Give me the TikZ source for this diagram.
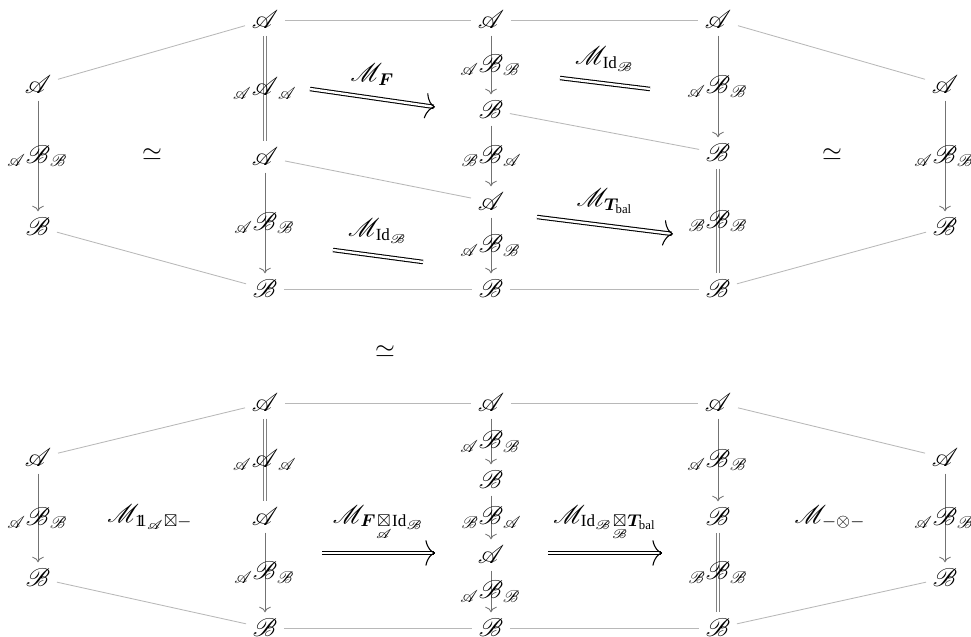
\documentclass[tikz,border=0pt,12pt]{standalone}
\usepackage{amsmath,amssymb,mathtools,bm}
\usepackage{mathrsfs}
\usepackage{fontspec}
\setmainfont{Liberation Serif}
\usetikzlibrary{arrows.meta,calc}

% shorthands for the categories and bimodules
\newcommand{\cA}{\mathscr{A}}
\newcommand{\cB}{\mathscr{B}}
\newcommand{\bimod}[3]{\mathllap{{}_{#1}}#2\mathrlap{{}_{#3}}}
\newcommand{\IdB}{\text{Id}_{\cB}}
% double-struck one, built from two overlapping ones
\newcommand{\bbone}{\mathrm{1}\mkern-5.5mu\mathrm{1}}

\tikzset{
  obj/.style={inner sep=3pt},
  lnk/.style={draw=black!28, line width=0.4pt},
  varr/.style={draw=black!55, line width=0.4pt, -{Computer Modern Rightarrow[length=2.6pt,width=5.5pt]}},
  ideq/.style={draw=black!50, line width=0.4pt, double, double distance=1.4pt},
  celleq/.style={line width=0.5pt, double, double distance=1.1pt},
  celltip/.style={line width=0.5pt, -{Computer Modern Rightarrow[length=4.5pt,width=12pt]}},
  lbl/.style={midway, inner sep=0pt},
  cname/.style={midway, above=1.5pt},
}
% a double arrow between two coordinates, with a large curved head
\newcommand{\twocell}[3]{%
  \draw[celleq, shorten >=0.6pt] (#1) -- node[cname] {#3} (#2);
  \draw[celltip] ($(#2)!0.3pt!(#1)$) -- (#2);}

\begin{document}
\begin{tikzpicture}[x=0.47pt, y=-0.47pt]
\useasboundingbox (0,0) rectangle (971,637);
\clip (0,0) rectangle (971,637);

% ---------------- upper composite ----------------
\node[obj] (T1a) at (38,85)  {$\cA$};
\node[obj] (T1b) at (38,227) {$\cB$};
\node[obj] (T2a) at (265,20) {$\cA$};
\node[obj] (T2b) at (265,157) {$\cA$};
\node[obj] (T2c) at (265,289) {$\cB$};
\node[obj] (T3a) at (491,20) {$\cA$};
\node[obj] (T3b) at (491,110) {$\cB$};
\node[obj] (T3c) at (491,202) {$\cA$};
\node[obj] (T3d) at (491,289) {$\cB$};
\node[obj] (T4a) at (718,20) {$\cA$};
\node[obj] (T4b) at (718,153) {$\cB$};
\node[obj] (T4c) at (718,289) {$\cB$};
\node[obj] (T5a) at (945,85) {$\cA$};
\node[obj] (T5b) at (945,227) {$\cB$};

\draw[lnk] (T1a) -- (T2a);
\draw[lnk] (T2a) -- (T3a);
\draw[lnk] (T3a) -- (T4a);
\draw[lnk] (T4a) -- (T5a);
\draw[lnk] (T1b) -- (T2c);
\draw[lnk] (T2c) -- (T3d);
\draw[lnk] (T3d) -- (T4c);
\draw[lnk] (T4c) -- (T5b);
\draw[lnk] (T2b) -- (T3c);
\draw[lnk] (T3b) -- (T4b);

\draw[varr] (T1a) -- node[lbl] {$\bimod{\cA}{\cB}{\cB}$} (T1b);
\draw[ideq] (T2a) -- node[lbl] {$\bimod{\cA}{\cA}{\cA}$} (T2b);
\draw[varr] (T2b) -- node[lbl] {$\bimod{\cA}{\cB}{\cB}$} (T2c);
\draw[varr] (T3a) -- node[lbl] {$\bimod{\cA}{\cB}{\cB}$} (T3b);
\draw[varr] (T3b) -- node[lbl] {$\bimod{\cB}{\cB}{\cA}$} (T3c);
\draw[varr] (T3c) -- node[lbl] {$\bimod{\cA}{\cB}{\cB}$} (T3d);
\draw[varr] (T4a) -- node[lbl] {$\bimod{\cA}{\cB}{\cB}$} (T4b);
\draw[ideq] (T4b) -- node[lbl] {$\bimod{\cB}{\cB}{\cB}$} (T4c);
\draw[varr] (T5a) -- node[lbl] {$\bimod{\cA}{\cB}{\cB}$} (T5b);

\node (eqL) at (152,155) {$\simeq$};
\node (eqR) at (832,155) {$\simeq$};

% 2-cells of the upper composite
\coordinate (F1) at (310,89);  \coordinate (F2) at (435,107);
\coordinate (I1) at (560,78);  \coordinate (I2) at (650,89);
\coordinate (J1) at (333,250); \coordinate (J2) at (423,262);
\coordinate (B1) at (537,217); \coordinate (B2) at (673,234);
\twocell{F1}{F2}{$\mathscr{M}_{\bm F}$}
\draw[celleq] (I1) -- node[cname] {$\mathscr{M}_{\IdB}$} (I2);
\draw[celleq] (J1) -- node[cname] {$\mathscr{M}_{\IdB}$} (J2);
\twocell{B1}{B2}{$\mathscr{M}_{\bm T_{\text{bal}}}$}

\node (eqM) at (385,352) {$\simeq$};

% ---------------- lower composite ----------------
\node[obj] (U1a) at (38,458)  {$\cA$};
\node[obj] (U1b) at (38,578)  {$\cB$};
\node[obj] (U2a) at (265,403) {$\cA$};
\node[obj] (U2b) at (265,517) {$\cA$};
\node[obj] (U2c) at (265,628) {$\cB$};
\node[obj] (U3a) at (491,403) {$\cA$};
\node[obj] (U3b) at (491,480) {$\cB$};
\node[obj] (U3c) at (491,555) {$\cA$};
\node[obj] (U3d) at (491,628) {$\cB$};
\node[obj] (U4a) at (718,403) {$\cA$};
\node[obj] (U4b) at (718,517) {$\cB$};
\node[obj] (U4c) at (718,628) {$\cB$};
\node[obj] (U5a) at (945,458) {$\cA$};
\node[obj] (U5b) at (945,578) {$\cB$};

\draw[lnk] (U1a) -- (U2a);
\draw[lnk] (U2a) -- (U3a);
\draw[lnk] (U3a) -- (U4a);
\draw[lnk] (U4a) -- (U5a);
\draw[lnk] (U1b) -- (U2c);
\draw[lnk] (U2c) -- (U3d);
\draw[lnk] (U3d) -- (U4c);
\draw[lnk] (U4c) -- (U5b);

\draw[varr] (U1a) -- node[lbl] {$\bimod{\cA}{\cB}{\cB}$} (U1b);
\draw[ideq] (U2a) -- node[lbl] {$\bimod{\cA}{\cA}{\cA}$} (U2b);
\draw[varr] (U2b) -- node[lbl] {$\bimod{\cA}{\cB}{\cB}$} (U2c);
\draw[varr] (U3a) -- node[lbl] {$\bimod{\cA}{\cB}{\cB}$} (U3b);
\draw[varr] (U3b) -- node[lbl] {$\bimod{\cB}{\cB}{\cA}$} (U3c);
\draw[varr] (U3c) -- node[lbl] {$\bimod{\cA}{\cB}{\cB}$} (U3d);
\draw[varr] (U4a) -- node[lbl] {$\bimod{\cA}{\cB}{\cB}$} (U4b);
\draw[ideq] (U4b) -- node[lbl] {$\bimod{\cB}{\cB}{\cB}$} (U4c);
\draw[varr] (U5a) -- node[lbl] {$\bimod{\cA}{\cB}{\cB}$} (U5b);

\node (ML) at (150,517) {$\mathscr{M}_{\bbone_{\cA}\boxtimes -}$};
\node (MR) at (830,517) {$\mathscr{M}_{-\otimes -}$};

\coordinate (G1) at (322,553); \coordinate (G2) at (435,553);
\coordinate (H1) at (548,553); \coordinate (H2) at (662,553);
\twocell{G1}{G2}{$\mathscr{M}_{\bm F \underset{\cA}{\boxtimes} \IdB}$}
\twocell{H1}{H2}{$\mathscr{M}_{\IdB \underset{\cB}{\boxtimes} \bm T_{\text{bal}}}$}
\end{tikzpicture}
\end{document}
